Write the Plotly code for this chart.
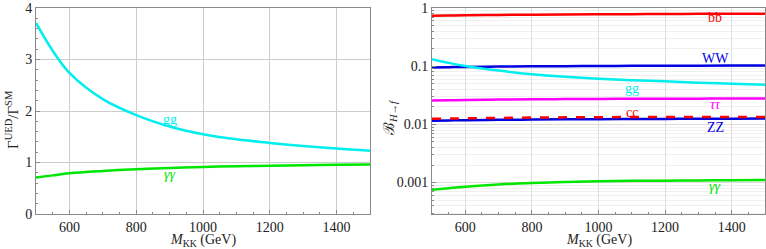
import plotly.graph_objects as go

# ---- data ----
m_kk = [500, 550, 600, 700, 800, 900, 1000, 1100, 1200, 1300, 1400, 1500]

ratio_gg = [3.71, 3.17, 2.74, 2.23, 1.92, 1.70, 1.55, 1.45, 1.38, 1.32, 1.27, 1.23]
ratio_aa = [0.71, 0.75, 0.79, 0.835, 0.87, 0.895, 0.915, 0.925, 0.935, 0.945, 0.955, 0.96]

br_bb = [0.735, 0.743, 0.750, 0.760, 0.768, 0.774, 0.779, 0.784, 0.788, 0.793, 0.797, 0.800]
br_ww = [0.095, 0.0962, 0.0972, 0.0985, 0.0995, 0.1002, 0.1008, 0.1013, 0.1017, 0.1022, 0.1026, 0.103]
br_gg = [0.132, 0.114, 0.101, 0.084, 0.073, 0.066, 0.061, 0.0575, 0.055, 0.052, 0.050, 0.048]
br_tt = [0.0257, 0.0260, 0.0263, 0.0267, 0.0270, 0.0272, 0.0274, 0.0275, 0.0276, 0.0277, 0.0278, 0.0278]
br_cc = [0.01245, 0.0126, 0.0127, 0.0129, 0.0131, 0.0132, 0.0133, 0.01335, 0.0134, 0.0134, 0.01345, 0.01345]
br_zz = [0.0116, 0.0117, 0.0118, 0.0120, 0.0121, 0.0122, 0.0123, 0.01235, 0.0124, 0.0125, 0.0125, 0.0126]
br_aa = [0.00075, 0.0008, 0.00085, 0.00093, 0.00098, 0.00102, 0.00105, 0.00107, 0.00108, 0.00109, 0.0011, 0.00111]

x_ticks = [600, 800, 1000, 1200, 1400]
y_lin_ticks = [0, 1, 2, 3, 4]
y_log_ticks = [0.001, 0.01, 0.1, 1]
y_log_text = ["0.001", "0.01", "0.1", "1"]
y_log_minor = [k * 10.0 ** d for d in (-4, -3, -2, -1) for k in range(2, 10)]

CYAN = "#00eeee"
GREEN = "#00e600"
RED = "#ff0000"
BLUE = "#0000e0"
MAGENTA = "#ff00ff"
FONT = "Times New Roman"
TXT = "#222222"
LW = 2.5

fig = go.Figure()

def add(x, y, color, xa, ya, dash="solid"):
    fig.add_trace(go.Scatter(x=x, y=y, mode="lines", xaxis=xa, yaxis=ya,
                             line=dict(color=color, width=LW, shape="spline", dash=dash),
                             showlegend=False, hoverinfo="skip"))

add(m_kk, ratio_gg, CYAN, "x", "y")
add(m_kk, ratio_aa, GREEN, "x", "y")

add(m_kk, br_bb, RED, "x2", "y2")
add(m_kk, br_ww, BLUE, "x2", "y2")
add(m_kk, br_gg, CYAN, "x2", "y2")
add(m_kk, br_tt, MAGENTA, "x2", "y2")
add(m_kk, br_zz, BLUE, "x2", "y2")
add(m_kk, br_cc, RED, "x2", "y2", dash="dash")
add(m_kk, br_aa, GREEN, "x2", "y2")

W, H = 766, 249
ydom = [(H - 214) / H, (H - 8) / H]
xdom1 = [36 / W, 370 / W]
xdom2 = [432 / W, 765 / W]

def axis_common():
    return dict(showline=True, linecolor="#8a8a8a", linewidth=1, mirror=True,
                ticks="inside", ticklen=4, tickcolor="#8a8a8a",
                tickfont=dict(family=FONT, size=14, color=TXT),
                zeroline=False, automargin=False)

fig.update_layout(
    width=W, height=H,
    margin=dict(l=0, r=0, t=0, b=0),
    plot_bgcolor="white", paper_bgcolor="white",
    font=dict(family=FONT, color=TXT, size=14),
    xaxis=dict(domain=xdom1, range=[500, 1500], tickvals=x_ticks,
               showgrid=True, gridcolor="#cccccc", gridwidth=1,
               minor=dict(dtick=50, ticks="inside", ticklen=2, tickcolor="#8a8a8a", showgrid=False),
               anchor="y", **axis_common()),
    yaxis=dict(domain=ydom, range=[0, 4], tickvals=y_lin_ticks,
               showgrid=True, gridcolor="#cccccc", gridwidth=1,
               minor=dict(dtick=0.2, ticks="inside", ticklen=2, tickcolor="#8a8a8a", showgrid=False),
               anchor="x", **axis_common()),
    xaxis2=dict(domain=xdom2, range=[500, 1500], tickvals=x_ticks,
                showgrid=True, gridcolor="#dddddd", gridwidth=1,
                minor=dict(dtick=50, ticks="inside", ticklen=2, tickcolor="#8a8a8a", showgrid=False),
                anchor="y2", **axis_common()),
    yaxis2=dict(domain=ydom, type="log", range=[-3.54, 0], tickvals=y_log_ticks, ticktext=y_log_text,
                showgrid=True, gridcolor="#dddddd", gridwidth=1,
                minor=dict(tickvals=y_log_minor, ticks="inside", ticklen=2, tickcolor="#8a8a8a",
                           showgrid=True, gridcolor="#f0f0f0", gridwidth=1),
                anchor="x2", **axis_common()),
)

# axis titles as paper-positioned annotations
xtitle = "<i>M</i><sub>KK</sub> (GeV)"
for dom in (xdom1, xdom2):
    fig.add_annotation(text=xtitle, x=(dom[0] + dom[1]) / 2, y=(H - 240) / H, xref="paper", yref="paper",
                       xanchor="center", yanchor="middle",
                       showarrow=False, font=dict(family=FONT, size=14, color=TXT))
fig.add_annotation(text="Γ<sup>UED</sup>/Γ<sup>SM</sup>", x=12 / W, y=(H - 120) / H,
                   xref="paper", yref="paper", textangle=-90, xanchor="center", yanchor="middle",
                   showarrow=False, font=dict(family=FONT, size=15, color=TXT))
fig.add_annotation(text="ℬ<sub><i>H</i>→<i>f</i></sub>", x=390 / W, y=(H - 117) / H,
                   xref="paper", yref="paper", textangle=-90, xanchor="center", yanchor="middle",
                   showarrow=False, font=dict(family=FONT, size=15, color=TXT))

def label(text, x, y, color, xref, yref, italic=False):
    t = f"<i>{text}</i>" if italic else text
    fig.add_annotation(text=t, x=x, y=y, xref=xref, yref=yref, showarrow=False,
                       font=dict(family=FONT, size=14, color=color))

# left panel labels
label("gg", 900, 1.83, CYAN, "x", "y")
label("γγ", 900, 0.76, GREEN, "x", "y", italic=True)
# right panel labels (log axis: y in log10 units)
label("bb", 1350, -0.17, RED, "x2", "y2")
label("WW", 1350, -0.86, BLUE, "x2", "y2")
label("gg", 1100, -1.39, CYAN, "x2", "y2")
label("ττ", 1350, -1.65, MAGENTA, "x2", "y2", italic=True)
label("cc", 1100, -1.80, RED, "x2", "y2")
label("ZZ", 1350, -2.05, BLUE, "x2", "y2")
label("γγ", 1350, -3.07, GREEN, "x2", "y2", italic=True)

fig.write_html("out.html", config={"displayModeBar": False},
               post_script="document.body.style.margin='0';")
